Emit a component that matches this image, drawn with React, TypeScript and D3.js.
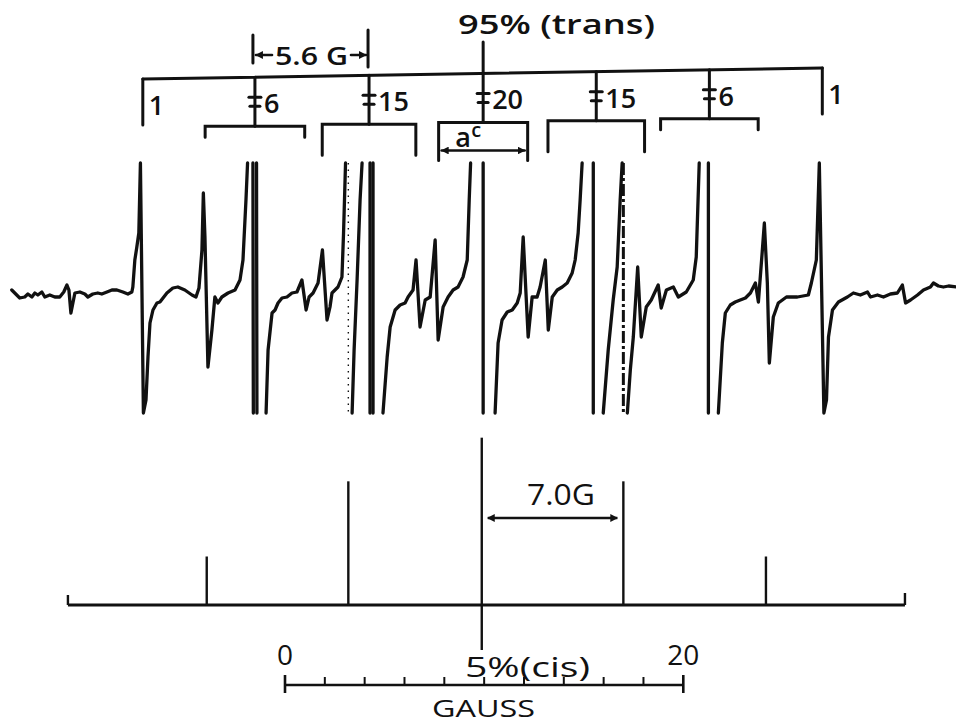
import React from 'react';
import * as d3 from 'd3';

const W = 956;
const H = 725;

// trans isomer: line positions (gauss) and relative intensities
const transField = [-7.14, -1.51, 4.22, 9.95, 15.63, 21.31, 26.98];
const transIntensity = [1, 6, 15, 20, 15, 6, 1];
// 13C satellite spacing drawn under each line (gauss)
const satelliteSpan = [0, 5.0, 4.7, 4.47, 4.85, 4.9, 0];
const transTitle = '95% (trans)';
const transSpacingLabel = '5.6 G';

// cis isomer stick spectrum
const cisField = [-3.93, 3.18, 9.88, 16.99, 24.15];
const cisIntensity = [1, 2.55, 3.45, 2.55, 1];
const cisTitle = '5%(cis)';
const cisSpacingLabel = '7.0G';
const baselineExtent = [-10.9, 31.13];

// field scale bar
const gaussTicks = [0, 2, 4, 6, 8, 10, 12, 14, 16, 18, 20];
const gaussLabels = [0, 20];
const gaussTitle = 'GAUSS';

// recorded derivative trace, [field (G), signal]; +-200 = off scale
const traceSegments: [number, number][][] = [
  [[-13.72, 0], [-13.32, -8], [-13.07, -7], [-12.91, -4], [-12.71, -7], [-12.56, -3], [-12.41, -5], [-12.21, -2],
   [-12.06, -7], [-11.81, -5], [-11.56, -7], [-11.31, -7], [-11.11, -2], [-10.95, 5], [-10.85, 0], [-10.75, -23],
   [-10.65, -13], [-10.55, -3], [-10.3, -2], [-10.05, -4], [-9.9, -7], [-9.65, -4], [-9.4, -3], [-9.2, -4],
   [-8.94, -2], [-8.69, 0], [-8.44, 0], [-8.14, -2], [-7.89, -4], [-7.69, -2], [-7.64, 3], [-7.54, 30],
   [-7.44, 43], [-7.34, 57], [-7.26, 200], [-7.11, -200], [-6.98, -110], [-6.88, -67], [-6.78, -33], [-6.63, -20],
   [-6.43, -13], [-6.28, -12], [-5.93, -3], [-5.63, 2], [-5.38, 3], [-5.03, 0], [-4.67, -5], [-4.47, -7],
   [-4.32, 2], [-4.17, 40], [-4.1, 97], [-4.02, 53], [-3.87, -77], [-3.67, -40], [-3.52, -7], [-3.37, -13],
   [-3.17, -7], [-2.86, -3], [-2.51, 0], [-2.26, 10], [-2.11, 30], [-1.96, 90], [-1.88, 200]],
  [[-1.61, 200], [-1.59, -200]],
  [[-1.43, 200], [-1.41, -200]],
  [[-0.95, -200], [-0.85, -60], [-0.65, -23], [-0.5, -20], [-0.35, -13], [-0.15, -8], [0.1, -7], [0.35, -3],
   [0.6, -2], [0.85, 10], [1.06, -20], [1.21, -7], [1.41, -3], [1.66, 7], [1.88, 40], [2.11, -30],
   [2.26, -17], [2.36, -3], [2.66, 3], [2.86, 13], [2.94, 57], [3.04, 200]],
  [[3.37, -200], [3.47, -60], [3.62, 10], [3.77, 90], [3.87, 200]],
  [[4.27, 200], [4.27, -200]],
  [[4.42, 200], [4.42, -200]],
  [[4.92, -200], [5.13, -67], [5.28, -37], [5.53, -20], [5.78, -15], [6.03, -13], [6.18, -7], [6.43, 0],
   [6.58, 30], [6.78, -37], [7.04, -10], [7.29, -7], [7.54, 50], [7.69, -50], [7.94, -17], [8.19, -7],
   [8.44, 0], [8.69, 3], [8.94, 13], [9.15, 30], [9.25, 90], [9.32, 200]],
  [[9.95, 200], [9.95, -200]],
  [[10.55, -200], [10.7, -53], [10.9, -30], [11.16, -22], [11.41, -20], [11.66, -13], [11.81, -3], [11.96, 53],
   [12.21, -47], [12.41, -7], [12.66, -7], [12.81, 3], [13.07, 30], [13.22, -40], [13.42, -7], [13.67, 0],
   [13.92, 3], [14.17, 7], [14.42, 17], [14.57, 30], [14.72, 57], [14.82, 90], [14.92, 200]],
  [[15.48, 200], [15.48, -200]],
  [[15.98, -200], [16.23, -60], [16.48, -10], [16.68, 23], [16.83, 90], [16.93, 200]],
  [[17.19, -200], [17.34, -80], [17.49, -47], [17.71, 23], [17.89, -47], [18.14, -17], [18.39, -10], [18.74, 5],
   [18.89, -18], [19.15, 0], [19.5, 3], [19.75, -7], [20.15, -2], [20.5, 10], [20.65, 33], [20.8, 200]],
  [[21.26, 200], [21.26, -200]],
  [[21.76, -200], [21.96, -53], [22.11, -23], [22.36, -15], [22.61, -12], [22.86, -10], [23.12, -8], [23.37, -3],
   [23.62, 7], [23.77, -12], [23.97, 40], [24.07, 67], [24.22, 7], [24.32, -73], [24.52, -27], [24.77, -13],
   [25.18, -7], [25.73, -7], [26.28, -5], [26.43, 7], [26.68, 30], [26.83, 200], [27.06, -200], [27.19, -110],
   [27.29, -47], [27.49, -20], [27.79, -12], [28.24, -7], [28.54, -3], [28.89, -5], [29.25, -2], [29.4, -7],
   [29.75, -5], [30.05, -7], [30.4, -4], [30.75, -3], [31.0, 5], [31.16, -13], [31.41, -10], [31.76, -5],
   [32.06, 0], [32.41, 3], [32.56, 7], [32.81, 4], [33.06, 3], [33.32, 4], [33.72, 3]],
];

const ink = '#111';
const labelFont = '"Open Sans", "DejaVu Sans", sans-serif';

export default function App() {
  const x = d3.scaleLinear().domain([0, 20]).range([285, 683.3]);
  const ySig = d3.scaleLinear().domain([-123, 127]).range([413, 163]).clamp(true);
  const yStick = d3.scaleLinear().domain([0, 1]).range([605, 556.5]);
  // hand drawn bracket line is slightly tilted
  const mainY = d3.scaleLinear().domain([transField[0], transField[transField.length - 1]]).range([79, 68]);

  const line = d3.line<[number, number]>().x((d) => x(d[0])).y((d) => ySig(d[1]));

  const tickLen = (n: number) => (n === 6 ? 11 : n === 15 ? 31 : 38);

  const x0 = x(transField[0]);
  const x6 = x(transField[6]);

  return (
    <svg width={W} height={H} style={{ position: 'absolute', left: 0, top: 0, background: '#fff' }}>
      <defs>
        <marker id="ah" viewBox="0 0 10 10" refX="9" refY="5" markerWidth="3" markerHeight="3" orient="auto-start-reverse">
          <path d="M0,0 L10,5 L0,10 z" fill={ink} />
        </marker>
      </defs>

      {/* trace */}
      <g fill="none" stroke={ink} strokeWidth={3.3} strokeLinejoin="round" strokeLinecap="round">
        {traceSegments.map((seg, i) => (
          <path key={i} d={line(seg) || ''} />
        ))}
      </g>
      {/* cis guide strokes through the trace */}
      <line x1={x(cisField[1])} x2={x(cisField[1])} y1={ySig(127)} y2={ySig(-123)} stroke={ink} strokeWidth={1.4} strokeDasharray="1.5,5" />
      <line x1={x(cisField[3])} x2={x(cisField[3])} y1={ySig(127)} y2={ySig(-123)} stroke={ink} strokeWidth={3} strokeDasharray="12,3,3,3" />

      {/* top annotation */}
      <g stroke={ink} strokeWidth={3} fill="none" strokeLinecap="round">
        <line x1={x0} y1={mainY(transField[0])} x2={x6} y2={mainY(transField[6])} />
        {transField.map((f, i) => {
          const xs = x(f);
          const ym = mainY(f);
          const n = transIntensity[i];
          if (i === 0 || i === transField.length - 1) {
            return <line key={i} x1={xs} x2={xs} y1={ym} y2={ym + 46} />;
          }
          const yb = ym + 49;
          const xl = x(f - satelliteSpan[i] / 2);
          const xr = x(f + satelliteSpan[i] / 2);
          const tl = tickLen(n);
          return (
            <g key={i}>
              <line x1={xs} x2={xs} y1={n === 20 ? 42 : ym} y2={yb} />
              <line x1={xs - 6} x2={xs + 6} y1={ym + 20} y2={ym + 20} />
              <line x1={xs - 5} x2={xs + 5} y1={ym + 29} y2={ym + 29} />
              <path d={`M${xl},${yb + tl} L${xl},${yb} L${xr},${yb} L${xr},${yb + tl}`} />
            </g>
          );
        })}
        {/* 5.6 G spacing marker */}
        <line x1={x(transField[1]) - 2} x2={x(transField[1]) - 2} y1={35} y2={63} />
        <line x1={x(transField[2]) - 1} x2={x(transField[2]) - 1} y1={30} y2={67} />
        <line x1={272} x2={x(transField[1]) + 1} y1={55} y2={55} markerEnd="url(#ah)" strokeWidth={2.6} />
        <line x1={351} x2={x(transField[2]) - 3} y1={55} y2={55} markerEnd="url(#ah)" strokeWidth={2.6} />
        {/* a^c arrow */}
        <line
          x1={x(transField[3] - satelliteSpan[3] / 2) + 3}
          x2={x(transField[3] + satelliteSpan[3] / 2) - 3}
          y1={mainY(transField[3]) + 77}
          y2={mainY(transField[3]) + 77}
          markerStart="url(#ah)"
          markerEnd="url(#ah)"
          strokeWidth={2.6}
        />
      </g>

      <g fill={ink} fontFamily={labelFont} fontWeight={600}>
        <text x={458} y={34} fontSize={27} textLength={197} lengthAdjust="spacingAndGlyphs">{transTitle}</text>
        <text x={275} y={65} fontSize={25} textLength={73} lengthAdjust="spacingAndGlyphs">{transSpacingLabel}</text>
        {transField.map((f, i) => (
          <text key={i} x={x(f) + (i === 0 || i === 6 ? 6 : 9)} y={mainY(f) + 36} fontSize={27}>
            {transIntensity[i]}
          </text>
        ))}
        <text x={x(transField[3]) - 28} y={mainY(transField[3]) + 74} fontSize={27}>a</text>
        <text x={x(transField[3]) - 12} y={mainY(transField[3]) + 64} fontSize={20}>c</text>
      </g>

      {/* cis stick spectrum */}
      <g stroke={ink} fill="none" strokeLinecap="butt">
        <line x1={x(baselineExtent[0])} x2={x(baselineExtent[1])} y1={yStick(0)} y2={yStick(0)} strokeWidth={3} />
        <line x1={x(baselineExtent[0])} x2={x(baselineExtent[0])} y1={yStick(0)} y2={yStick(0) - 10} strokeWidth={2.4} />
        <line x1={x(baselineExtent[1])} x2={x(baselineExtent[1])} y1={yStick(0)} y2={yStick(0) - 12} strokeWidth={2.4} />
        {cisField.map((f, i) => (
          <line key={i} x1={x(f)} x2={x(f)} y1={yStick(0)} y2={yStick(cisIntensity[i])} strokeWidth={2.4} />
        ))}
        <line x1={x(cisField[2])} x2={x(cisField[2])} y1={yStick(0)} y2={650} strokeWidth={2.4} />
        <line
          x1={x(cisField[2]) + 6}
          x2={x(cisField[3]) - 6}
          y1={518}
          y2={518}
          strokeWidth={2.6}
          markerStart="url(#ah)"
          markerEnd="url(#ah)"
        />
      </g>

      {/* gauss bar */}
      <g stroke={ink} fill="none" strokeWidth={2.6}>
        <line x1={x(0)} x2={x(20)} y1={685} y2={685} />
        {gaussTicks.map((t) => {
          const end = t === 0 || t === 20;
          return <line key={t} x1={x(t)} x2={x(t)} y1={end ? 675 : 677} y2={end ? 693 : 685} strokeWidth={end ? 2.6 : 2} />;
        })}
      </g>

      <g fill={ink} fontFamily={labelFont}>
        <text x={527} y={505} fontSize={29} textLength={68} lengthAdjust="spacingAndGlyphs">{cisSpacingLabel}</text>
        {gaussLabels.map((g) => (
          <text key={g} x={x(g)} y={665} fontSize={28} textAnchor="middle">{g}</text>
        ))}
        <text x={465} y={677} fontSize={28} textLength={125} lengthAdjust="spacingAndGlyphs">{cisTitle}</text>
        <text x={432} y={717} fontSize={24} textLength={103} lengthAdjust="spacingAndGlyphs">{gaussTitle}</text>
      </g>
    </svg>
  );
}
